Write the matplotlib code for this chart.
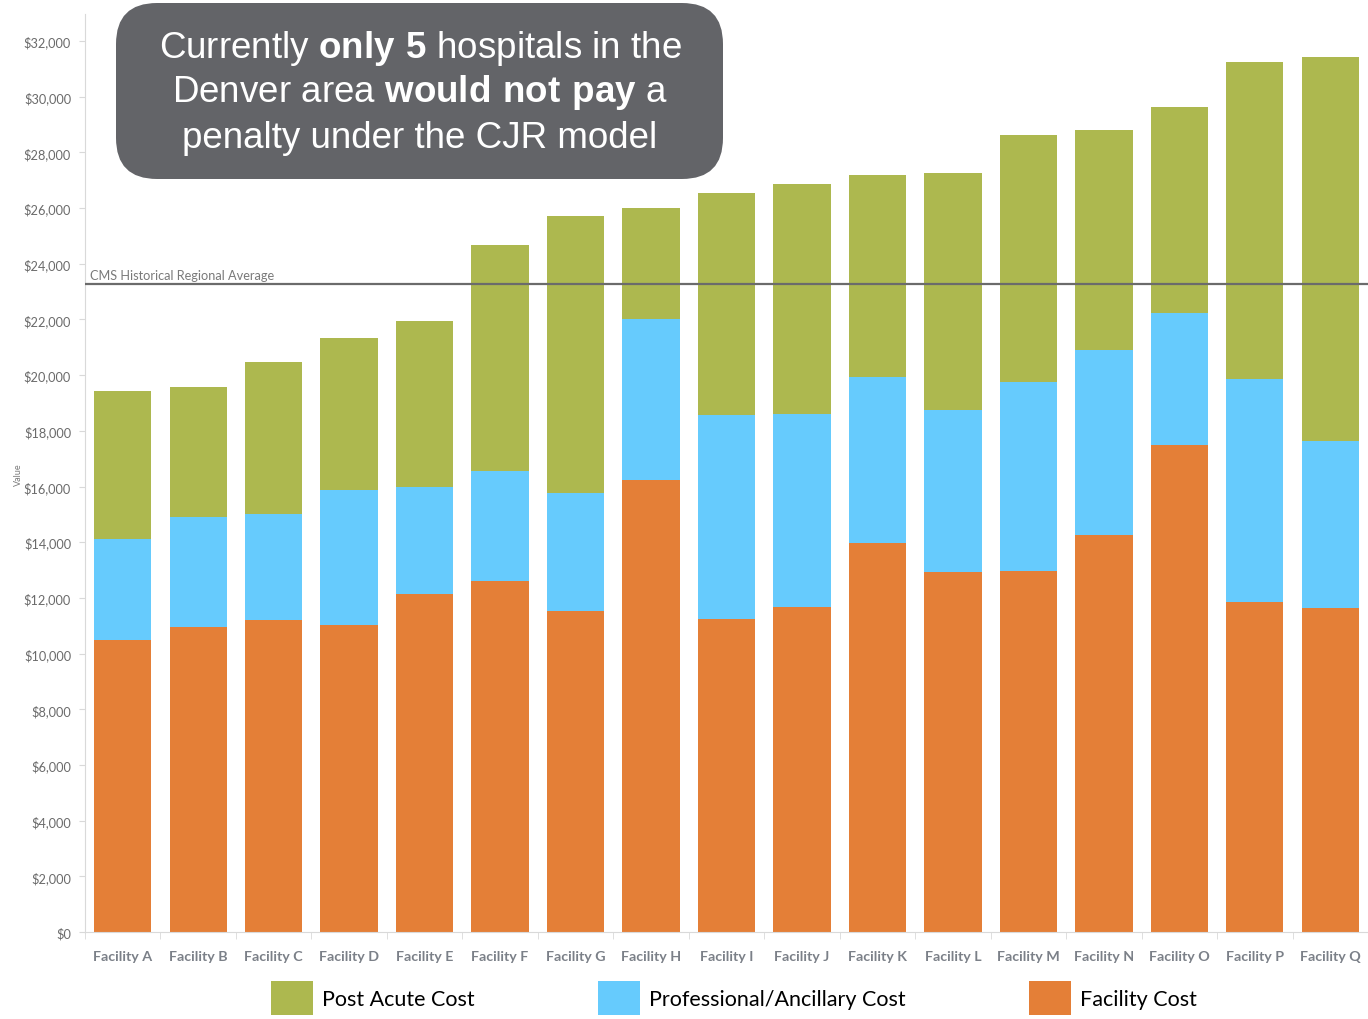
import matplotlib
matplotlib.use("Agg")
import numpy as np
import matplotlib.pyplot as plt
from matplotlib.patches import FancyBboxPatch, Patch
from matplotlib.ticker import FuncFormatter

# ------------------------------------------------------------
# Data
# ------------------------------------------------------------

facilities = [f"Facility {c}" for c in "ABCDEFGHIJKLMNOPQ"]

# cumulative tops of each stack segment
facility_top = [10490, 10950, 11200, 11020, 12140, 12600, 11530, 16230, 11240,
                11670, 13970, 12930, 12960, 14260, 17490, 11850, 11640]
professional_top = [14110, 14900, 15010, 15870, 15980, 16560, 15770, 22010, 18570,
                    18600, 19930, 18750, 19750, 20900, 22230, 19860, 17630]
post_acute_top = [19430, 19570, 20470, 21330, 21940, 24670, 25710, 26000, 26540,
                  26860, 27180, 27260, 28620, 28800, 29630, 31240, 31420]

facility_cost = np.array(facility_top)
professional_cost = np.array(professional_top) - facility_cost
post_acute_cost = np.array(post_acute_top) - np.array(professional_top)

regional_average = 23270

series_names = ["Post Acute Cost", "Professional/Ancillary Cost", "Facility Cost"]
colors = {"Post Acute Cost": "#ADB84F",
          "Professional/Ancillary Cost": "#66CBFD",
          "Facility Cost": "#E47F37"}

# ------------------------------------------------------------
# Figure
# ------------------------------------------------------------

W, H = 1368, 1020
fig = plt.figure(figsize=(W / 100, H / 100), dpi=100)

ax_left, ax_right = 85 / W, 1.0
ax_bottom, ax_top = 1 - 933 / H, 1 - 15 / H
ax = fig.add_axes([ax_left, ax_bottom, ax_right - ax_left, ax_top - ax_bottom])

x = np.arange(len(facilities))
bar_width = 0.76

ax.bar(x, facility_cost, width=bar_width, color=colors["Facility Cost"])
ax.bar(x, professional_cost, width=bar_width, bottom=facility_cost,
       color=colors["Professional/Ancillary Cost"])
ax.bar(x, post_acute_cost, width=bar_width, bottom=facility_cost + professional_cost,
       color=colors["Post Acute Cost"])

ax.set_xlim(-0.5, 16.34)
ax.set_ylim(0, 32970)

# reference line
ax.axhline(regional_average, color="#6b6b6b", lw=1.6, zorder=3)
ax.text(-0.44, regional_average + 120, "CMS Historical Regional Average",
        fontsize=9.2, color="#7a7a7a", family="Lato", va="bottom", ha="left")

# axes styling
for side in ["top", "right"]:
    ax.spines[side].set_visible(False)
ax.spines["left"].set_color("#d9d9d9")
ax.spines["bottom"].set_color("#d9d9d9")

ax.set_yticks(np.arange(0, 32001, 2000))
ax.yaxis.set_major_formatter(FuncFormatter(lambda v, p: f"${int(v):,}"))
ax.tick_params(axis="y", length=4, color="#d9d9d9", labelsize=9.2,
               labelcolor="#6b6b6b", pad=6)
for lbl in ax.get_yticklabels():
    lbl.set_family("Lato")

ax.set_xticks(x)
ax.set_xticklabels(facilities, fontsize=10.3, fontweight="bold", color="#7b8088",
                   family="Lato")
ax.set_xticks(np.arange(-0.5, 16.6, 1), minor=True)
ax.tick_params(axis="x", which="major", length=0, pad=13)
ax.tick_params(axis="x", which="minor", length=5, color="#d9d9d9")

fig.text(18 / W, 1 - 475 / H, "Value", rotation=90, fontsize=6.5,
         color="#7a7a7a", family="Lato", ha="center", va="center")

# legend
handles = [Patch(facecolor=colors[n], edgecolor="none") for n in series_names]
fig.legend(handles, series_names, loc="center", bbox_to_anchor=(734 / W, 1 - 999 / H),
           ncol=3, frameon=False, prop={"family": "Lato", "size": 15.5},
           handlelength=1.95, handleheight=2.0, handletextpad=0.4, columnspacing=5.75)

# annotation box
plt.rcParams["mathtext.fontset"] = "custom"
plt.rcParams["mathtext.rm"] = "Liberation Sans"
plt.rcParams["mathtext.bf"] = "Liberation Sans:bold"

box = FancyBboxPatch((116 / W, 1 - 180 / H), (723 - 116) / W, (180 - 4) / H,
                     boxstyle="round,pad=0,rounding_size=0.03",
                     transform=fig.transFigure, facecolor="#636468",
                     edgecolor="none", zorder=5, mutation_aspect=W / H)
fig.patches.append(box)

lines = [r"Currently $\mathbf{only\ 5}$ hospitals in the",
         r"Denver area $\mathbf{would\ not\ pay}$ a",
         "penalty under the CJR model"]
for i, line in enumerate(lines):
    fig.text(420 / W, 1 - (48 + 45 * i) / H, line, fontsize=26.5, color="white",
             family="Liberation Sans", ha="center", va="center", zorder=6)

fig.savefig("out.png", dpi=100)
